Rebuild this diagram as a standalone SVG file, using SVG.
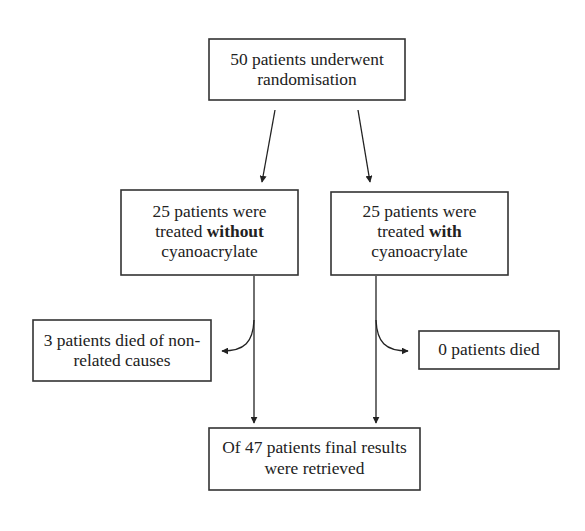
<svg xmlns="http://www.w3.org/2000/svg" width="585" height="531" viewBox="0 0 585 531">
<style>
.box{fill:#fff;stroke:#333;stroke-width:1.6}
.t{font-family:'Liberation Serif','Times New Roman',serif;font-size:17.4px;fill:#222;text-anchor:middle}
.b{font-weight:bold}
.c{fill:none;stroke:#222;stroke-width:1.3}
</style>
<defs>
<marker id="ah" viewBox="0 0 10 10" refX="9" refY="5" markerWidth="7" markerHeight="7" markerUnits="userSpaceOnUse" orient="auto">
<path d="M0,0 L10,5 L0,10 z" fill="#222"/>
</marker>
</defs>
<rect width="585" height="531" fill="#fff"/>
<g id="connectors">
<line class="c" x1="275" y1="110" x2="262" y2="182" marker-end="url(#ah)"/>
<line class="c" x1="358" y1="110" x2="370" y2="182" marker-end="url(#ah)"/>
<line class="c" x1="254" y1="276" x2="254" y2="423" marker-end="url(#ah)"/>
<line class="c" x1="376" y1="276" x2="376" y2="423" marker-end="url(#ah)"/>
<path class="c" d="M254,320 C253,342 245,351 222,351" marker-end="url(#ah)"/>
<path class="c" d="M376,320 C377,342 385,351 408,351" marker-end="url(#ah)"/>
</g>
<g id="randomisation">
<rect class="box" x="209" y="39" width="196" height="61"/>
<text class="t" x="307" y="65">50 patients underwent</text>
<text class="t" x="307" y="85">randomisation</text>
</g>
<g id="without">
<rect class="box" x="121" y="190" width="177" height="85"/>
<text class="t" x="209.5" y="217">25 patients were</text>
<text class="t" x="209.5" y="237">treated <tspan class="b">without</tspan></text>
<text class="t" x="209.5" y="257">cyanoacrylate</text>
</g>
<g id="with">
<rect class="box" x="331" y="192" width="177" height="83"/>
<text class="t" x="419.5" y="217">25 patients were</text>
<text class="t" x="419.5" y="237">treated <tspan class="b">with</tspan></text>
<text class="t" x="419.5" y="257">cyanoacrylate</text>
</g>
<g id="died3">
<rect class="box" x="33" y="320" width="178" height="61"/>
<text class="t" x="122" y="346">3 patients died of non-</text>
<text class="t" x="122" y="366">related causes</text>
</g>
<g id="died0">
<rect class="box" x="419" y="331" width="140" height="38"/>
<text class="t" x="489" y="355">0 patients died</text>
</g>
<g id="final">
<rect class="box" x="209" y="428" width="211" height="62"/>
<text class="t" x="314.5" y="453">Of 47 patients final results</text>
<text class="t" x="314.5" y="474">were retrieved</text>
</g>
</svg>
